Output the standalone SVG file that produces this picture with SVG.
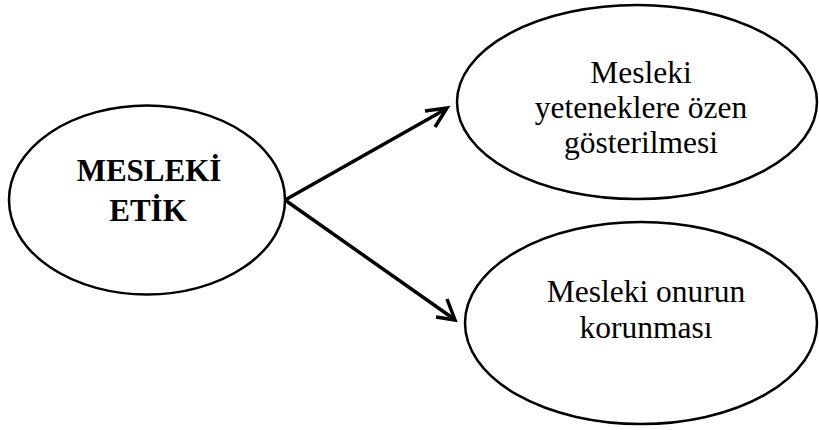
<svg xmlns="http://www.w3.org/2000/svg" width="819" height="430" viewBox="0 0 819 430">
<defs>
<style>
.node ellipse{fill:#fff;stroke:#000;stroke-width:2.5}
.t{font-size:31.5px;fill:#000;text-anchor:middle}
.b{font-weight:bold;font-size:31px}
.conn line{stroke:#000;stroke-width:3.5}
.conn polyline{fill:none;stroke:#000;stroke-width:3.5;stroke-linejoin:miter}
</style>
</defs>
<rect width="819" height="430" fill="#fff"/>
<g font-family="Liberation Serif, DejaVu Serif, serif">
<g id="n-etik" class="node">
<ellipse cx="147" cy="200" rx="138" ry="94.5"/>
<text class="t b" x="149" y="181">MESLEKİ</text>
<text class="t b" x="148" y="221">ETİK</text>
</g>
<g id="n-yetenek" class="node">
<ellipse cx="637" cy="102" rx="180" ry="97"/>
<text class="t" x="641" y="83">Mesleki</text>
<text class="t" x="641" y="118">yeteneklere özen</text>
<text class="t" x="641" y="153">gösterilmesi</text>
</g>
<g id="n-onur" class="node">
<ellipse cx="641" cy="323" rx="176" ry="101"/>
<text class="t" x="646" y="302">Mesleki onurun</text>
<text class="t" x="646" y="338">korunması</text>
</g>
</g>
<g id="connectors" class="conn">
<line x1="285" y1="200" x2="446" y2="109"/>
<polyline points="425,111 447,108 435,127"/>
<line x1="285" y1="200" x2="454" y2="319"/>
<polyline points="436,317 455,320 447,299"/>
</g>
</svg>
